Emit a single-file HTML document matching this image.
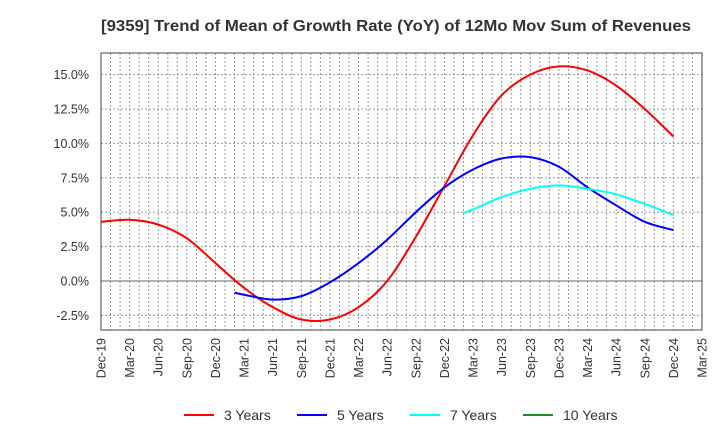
<!DOCTYPE html>
<html><head><meta charset="utf-8"><style>
body{margin:0;background:#fff}
svg{display:block;font-family:"Liberation Sans",Arial,sans-serif}
</style></head><body>
<svg id="chart" width="720" height="440" viewBox="0 0 720 440" xmlns="http://www.w3.org/2000/svg">
<text x="101" y="31" font-size="16" font-weight="bold" fill="#333" textLength="590" lengthAdjust="spacingAndGlyphs">[9359]  Trend of Mean of Growth Rate (YoY) of 12Mo Mov Sum of Revenues</text>
<g id="grid"></g>
<g id="series"></g>
<rect x="101" y="53" width="601" height="277" fill="none" stroke="#444" stroke-width="1"/>
<g id="yaxis"></g>
<g id="xaxis"></g>
<g id="legend"></g>
</svg>
<script>
const xTickLabels=["Dec-19","Mar-20","Jun-20","Sep-20","Dec-20","Mar-21","Jun-21","Sep-21","Dec-21","Mar-22","Jun-22","Sep-22","Dec-22","Mar-23","Jun-23","Sep-23","Dec-23","Mar-24","Jun-24","Sep-24","Dec-24","Mar-25"];
const yTicks=[-2.5,0,2.5,5,7.5,10,12.5,15];
const months3=[0,3,6,9,12,15,18,21,24,27,30,33,36,39,42,45,48,51,54,57,60];
const vals3=[4.3,4.45,4.1,3.1,1.3,-0.5,-1.9,-2.8,-2.8,-1.9,0.0,3.2,6.9,10.6,13.5,15.0,15.6,15.3,14.2,12.5,10.5];
const months5=[14,15,18,21,24,27,30,33,36,39,42,45,48,51,54,57,60];
const vals5=[-0.85,-1.0,-1.35,-1.1,-0.1,1.3,3.0,5.0,6.8,8.1,8.9,9.0,8.3,6.8,5.5,4.3,3.7];
const months7=[38,39,42,45,48,51,54,57,60];
const vals7=[4.95,5.2,6.1,6.7,6.95,6.7,6.3,5.6,4.8];
const months10=[];
const vals10=[];
const legendLabels=["3 Years","5 Years","7 Years","10 Years"];
const colors=["#ff0000","#0000ff","#00ffff","#228b22"];

const NS="http://www.w3.org/2000/svg";
const L=101,R=702,T=53,B=330,MONTHS=63;
const y0=281,perUnit=13.76;
function xs(m){return L+m*(R-L)/MONTHS;}
function ys(v){return y0-v*perUnit;}
function mk(tag,attrs,parent){const e=document.createElementNS(NS,tag);for(const k in attrs)e.setAttribute(k,attrs[k]);parent.appendChild(e);return e;}
const grid=document.getElementById('grid');
for(let m=1;m<MONTHS;m++){
 const l=mk('line',{x1:xs(m),x2:xs(m),y1:T,y2:B,stroke:'#999','stroke-width':1,'stroke-dasharray':'2,2'},grid);
 
 
}
const ya=document.getElementById('yaxis');
yTicks.forEach(v=>{
 const l=mk('line',{x1:L,x2:R,y1:ys(v),y2:ys(v),stroke:v===0?'#666':'#999','stroke-width':1,'stroke-dasharray':v===0?'':'2,2'},grid);
 
 
 const t=mk('text',{x:89,y:ys(v)+4.5,'text-anchor':'end','font-size':12.5,fill:'#333'},ya);
 t.textContent=v.toFixed(1)+'%';
 
 
});
const xa=document.getElementById('xaxis');
xTickLabels.forEach((s,i)=>{
 const x=xs(i*3)+4.5;
 const t=mk('text',{x:0,y:0,'text-anchor':'end','font-size':12.5,fill:'#333',transform:`translate(${x},338) rotate(-90)`},xa);
 t.textContent=s;
 
 
});
function pathFrom(ms,vs){
 const p=ms.map((m,i)=>[xs(m),ys(vs[i])]);
 if(p.length<2)return '';
 let d=`M${p[0][0]},${p[0][1]}`;
 for(let i=0;i<p.length-1;i++){
  const a=p[i-1]||p[i],b=p[i],c=p[i+1],e=p[i+2]||c;
  d+=` C${b[0]+(c[0]-a[0])/6},${b[1]+(c[1]-a[1])/6} ${c[0]-(e[0]-b[0])/6},${c[1]-(e[1]-b[1])/6} ${c[0]},${c[1]}`;
 }
 return d;
}
const sg=document.getElementById('series');
[[months3,vals3],[months5,vals5],[months7,vals7],[months10,vals10]].forEach((s,i)=>{
 const d=pathFrom(s[0],s[1]);
 if(!d)return;
 const p=mk('path',{d:d,fill:'none',stroke:colors[i],'stroke-width':2},sg);
 
 
});
const lg=document.getElementById('legend');
const lx=[184,297,410,523];
legendLabels.forEach((s,i)=>{
 const g=mk('g',{},lg);
 
 
 mk('line',{x1:lx[i],x2:lx[i]+30,y1:415,y2:415,stroke:colors[i],'stroke-width':2},g);
 const t=mk('text',{x:lx[i]+40,y:420,'font-size':14,fill:'#333'},g);
 t.textContent=s;
});
</script>
</body></html>
